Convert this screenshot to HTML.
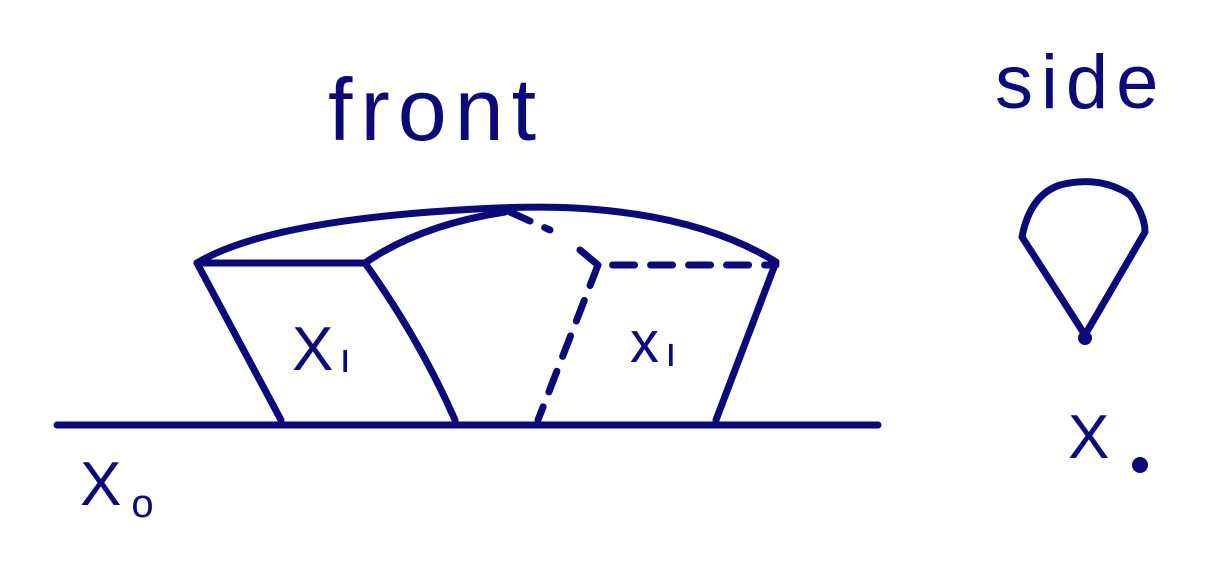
<!DOCTYPE html>
<html>
<head>
<meta charset="utf-8">
<style>
  html,body{margin:0;padding:0;background:#fff;}
  svg{display:block;}
  .ink{fill:none;stroke:#0b0a78;stroke-width:7;stroke-linecap:round;stroke-linejoin:round;}
  .dash{fill:none;stroke:#0b0a78;stroke-width:7;stroke-linecap:round;stroke-dasharray:22 16;}
  .lbl{font-family:"Liberation Sans",sans-serif;fill:#0b0a78;}
</style>
</head>
<body>
<svg width="1206" height="562" viewBox="0 0 1206 562">
  <text class="lbl" x="328" y="140" font-size="88" letter-spacing="8">front</text>
  <text class="lbl" x="995" y="108" font-size="76" letter-spacing="8">side</text>

  <line class="ink" x1="57" y1="425" x2="878" y2="425"/>

  <g>
    <path class="ink" d="M197 263 L365 263"/>
    <path class="ink" d="M197 263 L281 420"/>
    <path class="ink" d="M365 263 Q420 340 455 420"/>
    <path class="ink" d="M197 263 Q260 225 430 212 Q520 205 575 208 Q700 215 776 262"/>
    <path class="ink" d="M365 263 Q420 225 505 212"/>
    <path class="ink" d="M776 262 L716 420"/>
    <path class="dash" d="M510 212 L550 230"/>
    <path class="dash" d="M580 250 L598 265 L776 265"/>
    <path class="dash" d="M598 265 L538 420"/>
    <text class="lbl" x="292" y="370" font-size="62">X<tspan font-size="42" dx="6" dy="2">ı</tspan></text>
    <text class="lbl" x="630" y="362" font-size="58">x<tspan font-size="42" dx="6" dy="4">ı</tspan></text>
  </g>

  <text class="lbl" x="80" y="505" font-size="62">X<tspan font-size="40" dx="10" dy="12">o</tspan></text>

  <g>
    <path class="ink" d="M1085 335 L1022 237 Q1030 195 1060 185 Q1100 175 1130 195 Q1145 215 1145 232 L1085 335"/>
    <circle cx="1085" cy="338" r="7" fill="#0b0a78"/>
    <text class="lbl" x="1068" y="458" font-size="62">X</text>
    <circle cx="1140" cy="465" r="8" fill="#0b0a78"/>
  </g>
</svg>
</body>
</html>
